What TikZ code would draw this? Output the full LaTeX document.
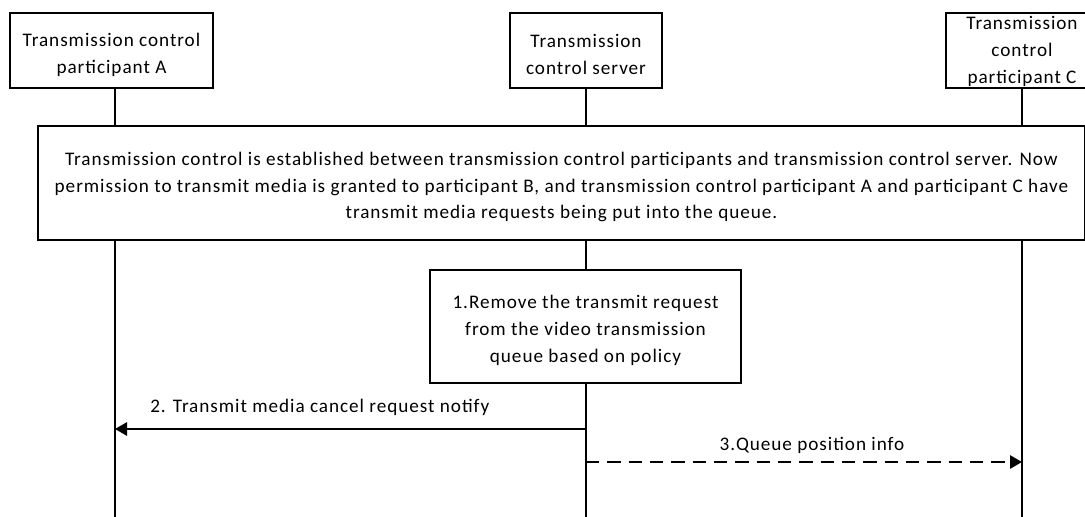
\documentclass[tikz,border=0pt]{standalone}
\usepackage{fontspec}
\setmainfont{Carlito}[LetterSpace=5]
\usetikzlibrary{arrows.meta}
\begin{document}
\begin{tikzpicture}[x=0.75pt,y=-0.75pt,
  font=\fontsize{14.4}{20.2}\selectfont,
  box/.style={draw, line width=1pt, fill=white, inner sep=0pt},
  txt/.style={inner sep=0pt, align=center, yshift=-3pt},
  life/.style={line width=0.9pt},
  msg/.style={line width=1.4pt, -{Triangle[length=9pt,width=10pt]}},
  dmsg/.style={line width=1.4pt, dash pattern=on 10pt off 6pt, -{Triangle[length=9pt,width=10pt]}},
  lbl/.style={inner sep=0pt, yshift=-2pt}]
\useasboundingbox (0,0) rectangle (1085,517);
\clip (0,0) rectangle (1085,517);
% lifelines
\coordinate (ta) at (115,88);  \coordinate (ba) at (115,517);
\coordinate (ts) at (586,88);  \coordinate (bs) at (586,517);
\coordinate (tc) at (1022,88); \coordinate (bc) at (1022,517);
\draw[life] (ta) -- (ba);
\draw[life] (ts) -- (bs);
\draw[life] (tc) -- (bc);
% participants
\node[box, minimum width=152.25pt, minimum height=56.25pt] (pa) at (111.5,50.5) {};
\node[txt] (pat) at (pa) {Transmission control\\participant A};
\node[box, minimum width=114pt, minimum height=56.25pt] (ps) at (586,50.5) {};
\node[txt] (pst) at (ps) {Transmission\\control server};
\node[box, minimum width=114pt, minimum height=56.25pt] (pc) at (1022,50.5) {};
\node[txt, yshift=2.5pt] (pct) at (pc) {Transmission\\control\\participant C};
% big note
\node[box, minimum width=785.25pt, minimum height=85.5pt] (note) at (561.5,183) {};
\node[txt] (notet) at (note) {Transmission control is established between transmission control participants and transmission control server. Now\\permission to transmit media is granted to participant B, and transmission control participant A and participant C have\\transmit media requests being put into the queue.};
% step 1
\node[box, minimum width=233.25pt, minimum height=84.75pt] (s1) at (585.5,326.5) {};
\node[txt] (s1t) at (s1) {1.Remove the transmit request\\from the video transmission\\queue based on policy};
% messages
\coordinate (m2s) at (586,429); \coordinate (m2e) at (115,429);
\coordinate (m3s) at (586,462); \coordinate (m3e) at (1022,462);
\draw[msg] (m2s) -- (m2e);
\draw[dmsg] (m3s) -- (m3e);
\node[lbl, anchor=west] (l2) at (150,405) {2. Transmit media cancel request notify};
\node[lbl] (l3) at (812,443) {3.Queue position info};
\end{tikzpicture}
\end{document}
